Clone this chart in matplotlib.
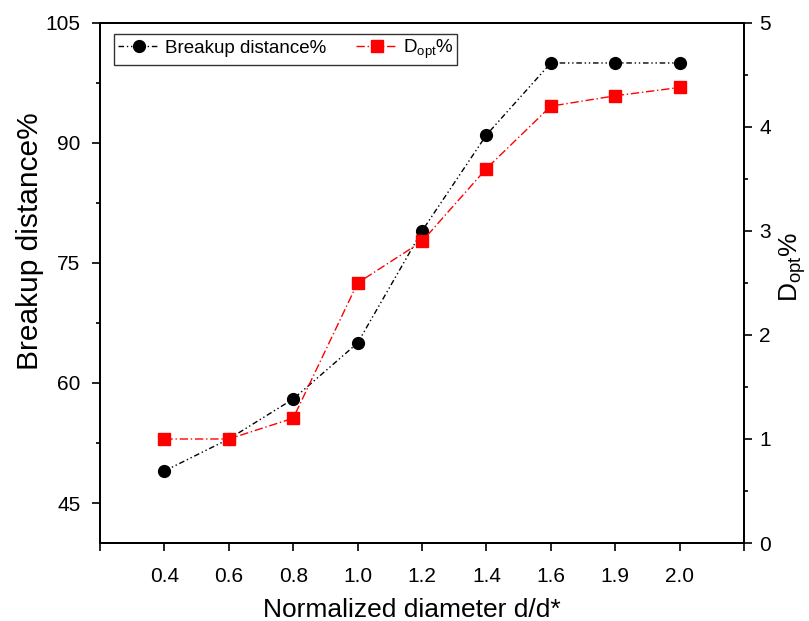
import matplotlib
matplotlib.use("Agg")
import matplotlib.pyplot as plt
from matplotlib.ticker import MultipleLocator

plt.rcParams["font.family"] = ["Liberation Sans", "DejaVu Sans"]
plt.rcParams["mathtext.default"] = "regular"

# categories shown evenly spaced along x
diameters = ["0.4", "0.6", "0.8", "1.0", "1.2", "1.4", "1.6", "1.9", "2.0"]
breakup_pct = [49, 53, 58, 65, 79, 91, 100, 100, 100]
dopt_pct = [1.0, 1.0, 1.2, 2.5, 2.9, 3.6, 4.2, 4.3, 4.38]

xpos = list(range(1, len(diameters) + 1))

fig = plt.figure(figsize=(8.09, 6.21), dpi=100)
ax = fig.add_axes([0.1236, 0.1256, 0.7961, 0.8374])
ax2 = ax.twinx()

l1, = ax.plot(xpos, breakup_pct, color="black", lw=1.0,
              linestyle=(0, (4, 2, 1, 2, 1, 2)),
              marker="o", markersize=8.5, label="Breakup distance%")
l2, = ax2.plot(xpos, dopt_pct, color="red", lw=1.0,
               linestyle=(0, (6, 2, 1, 2)),
               marker="s", markersize=8, label="$D_{opt}$%")

ax.set_xlim(0, 10)
ax.set_ylim(40, 105)
ax2.set_ylim(0, 5)

# x ticks: labels at the categories, long ticks on even slots
ax.set_xticks(range(0, 11))
ax.set_xticklabels([""] + diameters + [""])
for i, t in enumerate(ax.xaxis.get_major_ticks()):
    t.tick1line.set_markersize(6 if i % 2 == 0 else 3)

ax.yaxis.set_major_locator(MultipleLocator(15))
ax.yaxis.set_minor_locator(MultipleLocator(7.5))
ax2.yaxis.set_major_locator(MultipleLocator(1))
ax2.yaxis.set_minor_locator(MultipleLocator(0.5))

for a in (ax, ax2):
    a.tick_params(which="major", direction="out", length=6, width=1.2,
                  labelsize=15)
    a.tick_params(which="minor", direction="out", length=3, width=1.2)
    for s in a.spines.values():
        s.set_linewidth(1.4)
ax.tick_params(axis="x", which="major", pad=11)
ax.tick_params(axis="y", which="major", pad=8)
ax2.tick_params(axis="y", which="major", pad=5)

ax.set_xlabel("Normalized diameter d/d*", fontsize=19)
ax.xaxis.set_label_coords(0.484, -0.105)
ax.set_ylabel("Breakup distance%", fontsize=21.5)
ax.yaxis.set_label_coords(-0.087, 0.58)
ax2.set_ylabel("$D_{opt}$%", fontsize=19)
ax2.yaxis.set_label_coords(1.051, 0.53)

leg = ax2.legend(handles=[l1, l2], loc="upper left",
                 bbox_to_anchor=(0.022, 0.979), borderaxespad=0,
                 ncol=2, fontsize=13.5, frameon=True, fancybox=False,
                 edgecolor="black", handlelength=2.2, columnspacing=1.6,
                 handletextpad=0.3, borderpad=0.2)
leg.get_frame().set_linewidth(1.0)

fig.savefig("out.png", dpi=100)
